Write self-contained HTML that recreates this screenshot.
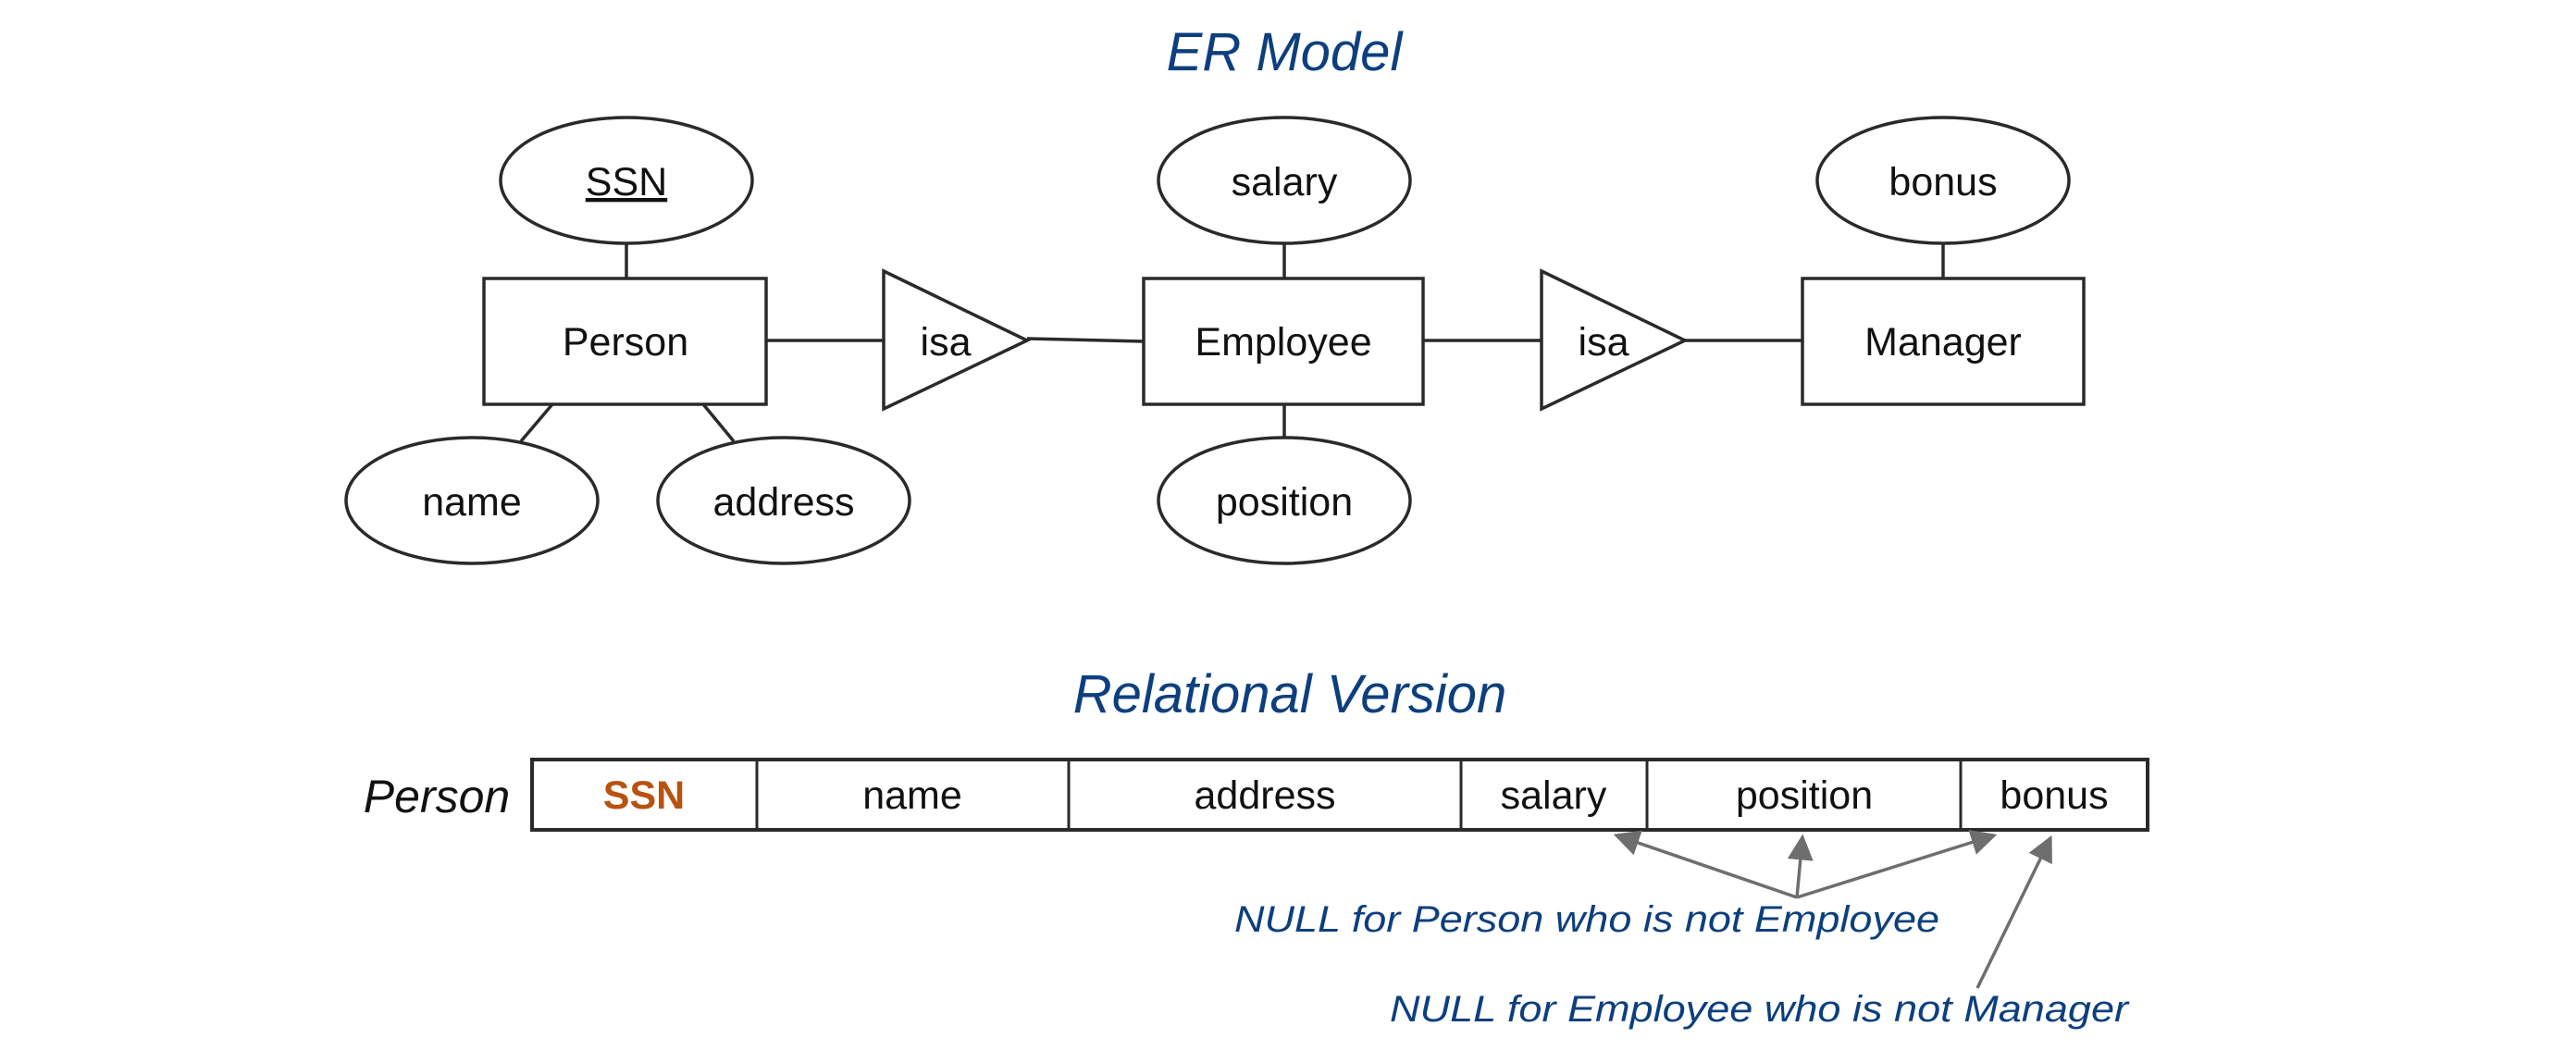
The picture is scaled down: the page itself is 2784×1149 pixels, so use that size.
<!DOCTYPE html>
<html><head><meta charset="utf-8"><style>html,body{margin:0;padding:0;background:#fff}svg{display:block}</style></head>
<body>
<svg width="2784" height="1149" viewBox="0 0 2784 1149" xmlns="http://www.w3.org/2000/svg" font-family="'Liberation Sans', Arial, sans-serif">
<defs>
<marker id="ah" markerWidth="8" markerHeight="8" refX="7" refY="4" orient="auto" markerUnits="strokeWidth">
<path d="M0,0 L8,4 L0,8 z" fill="#6e6e6e"/>
</marker>
</defs>
<g fill="#0d3f7e" font-style="italic" font-size="58" text-anchor="middle">
<text x="1388" y="76">ER Model</text>
<text x="1394" y="770">Relational Version</text>
</g>
<g stroke="#2a2a2a" stroke-width="3.5" fill="none">
<ellipse cx="677" cy="195" rx="136" ry="68"/>
<ellipse cx="1388" cy="195" rx="136" ry="68"/>
<ellipse cx="2100" cy="195" rx="136" ry="68"/>
<ellipse cx="510" cy="541" rx="136" ry="68"/>
<ellipse cx="847" cy="541" rx="136" ry="68"/>
<ellipse cx="1388" cy="541" rx="136" ry="68"/>
<rect x="523" y="301" width="305" height="136"/>
<rect x="1236" y="301" width="302" height="136"/>
<rect x="1948" y="301" width="304" height="136"/>
<polygon points="955,293 1110,368 955,442"/>
<polygon points="1666,293 1821,368 1666,442"/>
<line x1="677" y1="263" x2="677" y2="301"/>
<line x1="1388" y1="263" x2="1388" y2="301"/>
<line x1="2100" y1="263" x2="2100" y2="301"/>
<line x1="1388" y1="437" x2="1388" y2="473"/>
<line x1="597" y1="437" x2="563" y2="477"/>
<line x1="760" y1="437" x2="793" y2="477"/>
<line x1="828" y1="368" x2="955" y2="368"/>
<line x1="1110" y1="366" x2="1236" y2="369"/>
<line x1="1538" y1="368" x2="1666" y2="368"/>
<line x1="1821" y1="368" x2="1948" y2="368"/>
</g>
<g fill="#111" font-size="43" text-anchor="middle">
<text x="677" y="211" text-decoration="underline">SSN</text>
<text x="1388" y="211">salary</text>
<text x="2100" y="211">bonus</text>
<text x="510" y="557">name</text>
<text x="847" y="557">address</text>
<text x="1388" y="557">position</text>
<text x="676" y="384">Person</text>
<text x="1387" y="384">Employee</text>
<text x="2100" y="384">Manager</text>
<text x="1022" y="384">isa</text>
<text x="1733" y="384">isa</text>
</g>
<text x="472" y="878" font-size="50" font-style="italic" fill="#111" text-anchor="middle">Person</text>
<g stroke="#2a2a2a" fill="none">
<rect x="575" y="821" width="1746" height="76" stroke-width="4"/>
<g stroke-width="3">
<line x1="818" y1="821" x2="818" y2="897"/>
<line x1="1155" y1="821" x2="1155" y2="897"/>
<line x1="1579" y1="821" x2="1579" y2="897"/>
<line x1="1780" y1="821" x2="1780" y2="897"/>
<line x1="2119" y1="821" x2="2119" y2="897"/>
</g>
</g>
<g font-size="43" text-anchor="middle" fill="#111">
<text x="696" y="874" fill="#b8520f" font-weight="bold">SSN</text>
<text x="986" y="874">name</text>
<text x="1367" y="874">address</text>
<text x="1679" y="874">salary</text>
<text x="1950" y="874">position</text>
<text x="2220" y="874">bonus</text>
</g>
<g stroke="#6e6e6e" stroke-width="3.5" fill="none" marker-end="url(#ah)">
<line x1="1942" y1="970" x2="1747" y2="903"/>
<line x1="1942" y1="970" x2="1948" y2="905"/>
<line x1="1942" y1="970" x2="2155" y2="903"/>
<line x1="2137" y1="1068" x2="2216" y2="906"/>
</g>
<g fill="#0d3f7e" font-style="italic" font-size="40">
<text x="1334" y="1007" textLength="762" lengthAdjust="spacingAndGlyphs">NULL for Person who is not Employee</text>
<text x="1502" y="1104" textLength="798" lengthAdjust="spacingAndGlyphs">NULL for Employee who is not Manager</text>
</g>
</svg>
</body></html>
